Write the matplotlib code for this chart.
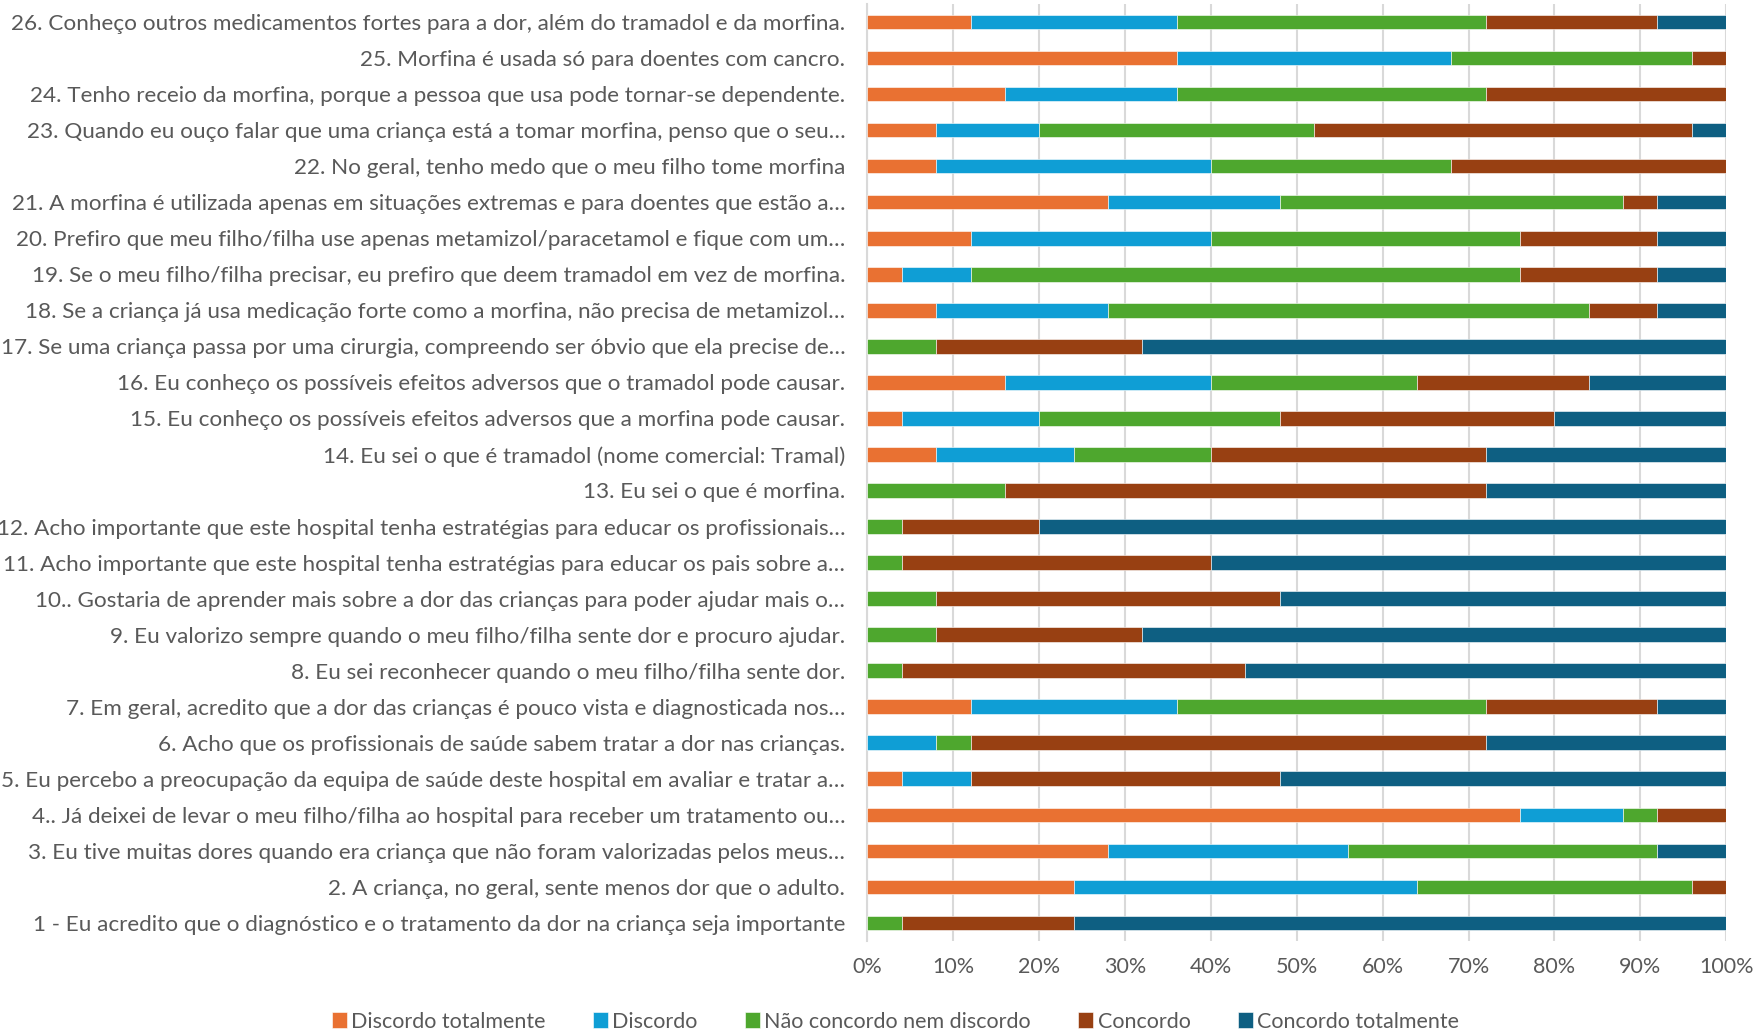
import numpy as np
import matplotlib
matplotlib.use("Agg")
import matplotlib.pyplot as plt

plt.rcParams['font.family'] = ['Lato', 'DejaVu Sans']

# questions, bottom (1) to top (26)
questions = [
    "1 - Eu acredito que o diagnóstico e o tratamento da dor na criança seja importante",
    "2. A criança, no geral, sente menos dor que o adulto.",
    "3. Eu tive muitas dores quando era criança que não foram valorizadas pelos meus…",
    "4.. Já deixei de levar o meu filho/filha ao hospital para receber um tratamento ou…",
    "5. Eu percebo a preocupação da equipa de saúde deste hospital em avaliar e tratar a…",
    "6. Acho que os profissionais de saúde sabem tratar a dor nas crianças.",
    "7. Em geral, acredito que a dor das crianças é pouco vista e diagnosticada nos…",
    "8. Eu sei reconhecer quando o meu filho/filha sente dor.",
    "9. Eu valorizo sempre quando o meu filho/filha sente dor e procuro ajudar.",
    "10.. Gostaria de aprender mais sobre a dor das crianças para poder ajudar mais o…",
    "11. Acho importante que este hospital tenha estratégias para educar os pais sobre a…",
    "12. Acho importante que este hospital tenha estratégias para educar os profissionais…",
    "13. Eu sei o que é morfina.",
    "14. Eu sei o que é tramadol (nome comercial: Tramal)",
    "15. Eu conheço os possíveis efeitos adversos que a morfina pode causar.",
    "16. Eu conheço os possíveis efeitos adversos que o tramadol pode causar.",
    "17. Se uma criança passa por uma cirurgia, compreendo ser óbvio que ela precise de…",
    "18. Se a criança já usa medicação forte como a morfina, não precisa de metamizol…",
    "19. Se o meu filho/filha precisar, eu prefiro que deem tramadol em vez de morfina.",
    "20. Prefiro que meu filho/filha use apenas metamizol/paracetamol e fique com um…",
    "21. A morfina é utilizada apenas em situações extremas e para doentes que estão a…",
    "22. No geral, tenho medo que o meu filho tome morfina",
    "23. Quando eu ouço falar que uma criança está a tomar morfina, penso que o seu…",
    "24. Tenho receio da morfina, porque a pessoa que usa pode tornar-se dependente.",
    "25. Morfina é usada só para doentes com cancro.",
    "26. Conheço outros medicamentos fortes para a dor, além do tramadol e da morfina.",
]

# percentages per answer, same order as questions
discordo_tot = [0, 24, 28, 76, 4, 0, 12, 0, 0, 0, 0, 0, 0, 8, 4, 16, 0, 8, 4, 12, 28, 8, 8, 16, 36, 12]
discordo     = [0, 40, 28, 12, 8, 8, 24, 0, 0, 0, 0, 0, 0, 16, 16, 24, 0, 20, 8, 28, 20, 32, 12, 20, 32, 24]
neutro       = [4, 32, 36, 4, 0, 4, 36, 4, 8, 8, 4, 4, 16, 16, 28, 24, 8, 56, 64, 36, 40, 28, 32, 36, 28, 36]
concordo     = [20, 4, 0, 8, 36, 60, 20, 40, 24, 40, 36, 16, 56, 32, 32, 20, 24, 8, 16, 16, 4, 32, 44, 28, 4, 20]
concordo_tot = [76, 0, 8, 0, 52, 28, 8, 56, 68, 52, 60, 80, 28, 28, 20, 16, 68, 8, 8, 8, 8, 0, 4, 0, 0, 8]

series = ["Discordo totalmente", "Discordo", "Não concordo nem discordo", "Concordo", "Concordo totalmente"]
colors = ["#E97132", "#0F9ED5", "#4EA72E", "#984012", "#0E5F82"]

fig = plt.figure(figsize=(17.56, 10.35), dpi=100)
ax = fig.add_axes([0.494, 0.091, 0.489, 0.905])

y = np.arange(len(questions))
left = np.zeros(len(questions))
for name, vals, c in zip(series, [discordo_tot, discordo, neutro, concordo, concordo_tot], colors):
    v = np.array(vals, dtype=float)
    ax.barh(y, v, left=left, height=0.4, color=c, label=name, edgecolor="white", linewidth=0.4, zorder=3)
    left += v

ax.set_xlim(0, 100)
ax.set_ylim(-0.5, len(questions) - 0.5)
ax.set_xticks(np.arange(0, 101, 10))
ax.set_xticklabels([f"{t}%" for t in range(0, 101, 10)])
ax.set_yticks(y)
ax.set_yticklabels(questions)
ax.tick_params(axis="both", length=0, labelsize=15.5, colors="#595959")
ax.tick_params(axis="y", pad=16, labelsize=16.2)
ax.tick_params(axis="x", pad=12)
ax.xaxis.grid(True, color="#D9D9D9", linewidth=1.5, zorder=0)
for s in ["top", "right", "bottom"]:
    ax.spines[s].set_visible(False)
ax.spines["left"].set_color("#D9D9D9")
ax.spines["left"].set_linewidth(1.5)

fig.legend(loc="center", bbox_to_anchor=(0.51, 0.013), ncol=5, frameon=False,
           fontsize=15.5, handlelength=0.7, handleheight=0.7, handletextpad=0.2,
           columnspacing=2.2, labelcolor="#595959")

fig.savefig("out.png", dpi=100)
